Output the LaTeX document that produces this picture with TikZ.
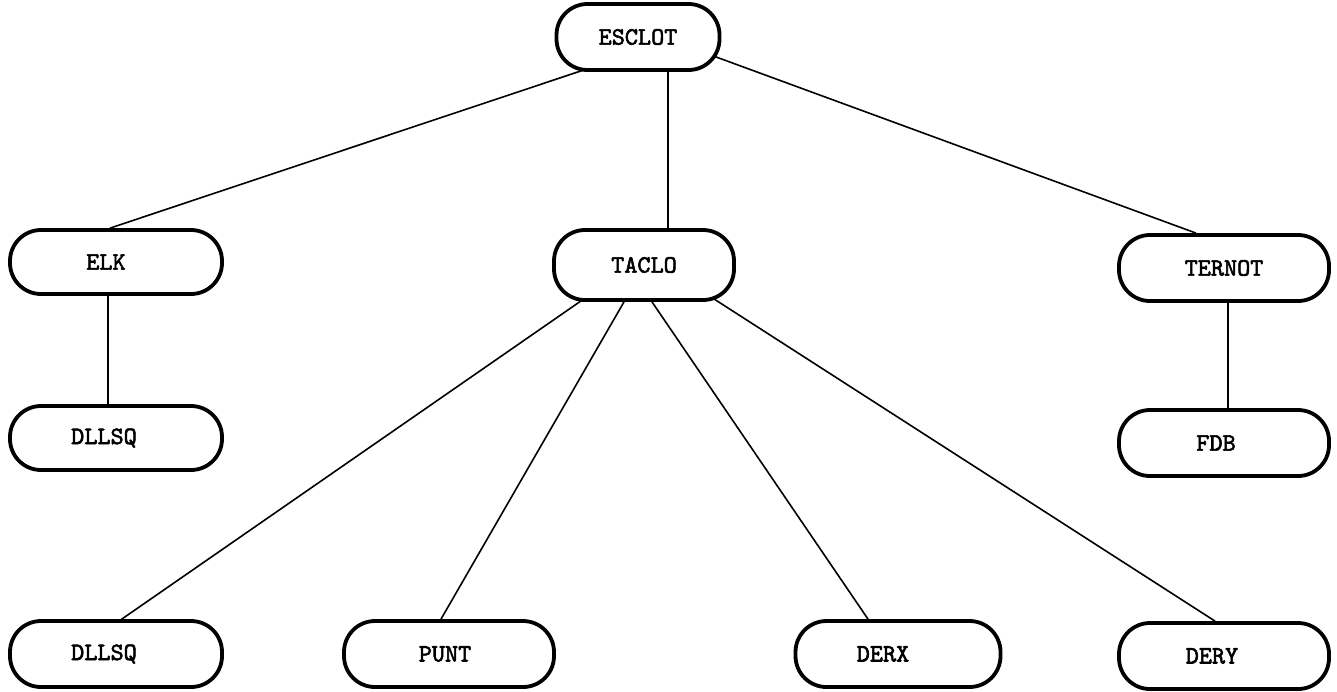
\documentclass[tikz,border=0pt]{standalone}
\usepackage{fontspec}
\newfontfamily\typewriter{lmmono10-regular.otf}[FakeBold=2.2]
\usetikzlibrary{calc,backgrounds}
\tikzset{
  proc/.style={draw=black, line width=3.8pt, rounded corners=31pt, fill=white,
    font=\typewriter\fontsize{25pt}{28pt}\selectfont, inner sep=0pt},
  link/.style={draw=black, line width=1.6pt}
}
\begin{document}
\begin{tikzpicture}[x=1pt, y=-1pt]
\useasboundingbox (0,0) rectangle (1337,691);
% call tree boxes (label text shifted where it sits off centre)
\node[proc, minimum width=163pt, minimum height=66pt] (esclot) at (638,37) {ESCLOT};
\node[proc, minimum width=212pt, minimum height=64pt] (elk) at (116,262) {\hspace*{-20pt}ELK};
\node[proc, minimum width=180pt, minimum height=70pt] (taclo) at (644,265) {TACLO};
\node[proc, minimum width=210pt, minimum height=66pt] (ternot) at (1224,268) {TERNOT};
\node[proc, minimum width=212pt, minimum height=64pt] (dllsqa) at (116,438) {\hspace*{-24pt}DLLSQ};
\node[proc, minimum width=210pt, minimum height=66pt] (fdb) at (1224,443) {\hspace*{-16pt}FDB};
\node[proc, minimum width=212pt, minimum height=66pt] (dllsqb) at (116,654) {\hspace*{-24pt}DLLSQ};
\node[proc, minimum width=210pt, minimum height=66pt] (punt) at (449,654) {\hspace*{-8pt}PUNT};
\node[proc, minimum width=205pt, minimum height=66pt] (derx) at (898,654) {\hspace*{-30pt}DERX};
\node[proc, minimum width=210pt, minimum height=66pt] (dery) at (1224,656) {\hspace*{-24pt}DERY};
% connectors, drawn behind the boxes
\begin{scope}[on background layer]
\draw[link] ($(esclot.south)+(-48,-4)$) -- ($(elk.north)+(-6,0)$);
\draw[link] ($(esclot.south)+(30,0)$) -- ($(taclo.north)+(24,0)$);
\draw[link] ($(esclot.east)+(-8,19)$) -- ($(ternot.north)+(-28,0)$);
\draw[link] ($(elk.south)+(-8,0)$) -- ($(dllsqa.north)+(-8,0)$);
\draw[link] ($(ternot.south)+(4,0)$) -- ($(fdb.north)+(4,0)$);
\draw[link] ($(taclo.south)+(-50,-10)$) -- ($(dllsqb.north)+(0,4)$);
\draw[link] ($(taclo.south)+(-20,0)$) -- ($(punt.north)+(-8,0)$);
\draw[link] ($(taclo.south)+(8,0)$) -- ($(derx.north)+(-30,0)$);
\draw[link] ($(taclo.south)+(59,-10)$) -- ($(dery.north)+(-9,0)$);
\end{scope}
\end{tikzpicture}
\end{document}
